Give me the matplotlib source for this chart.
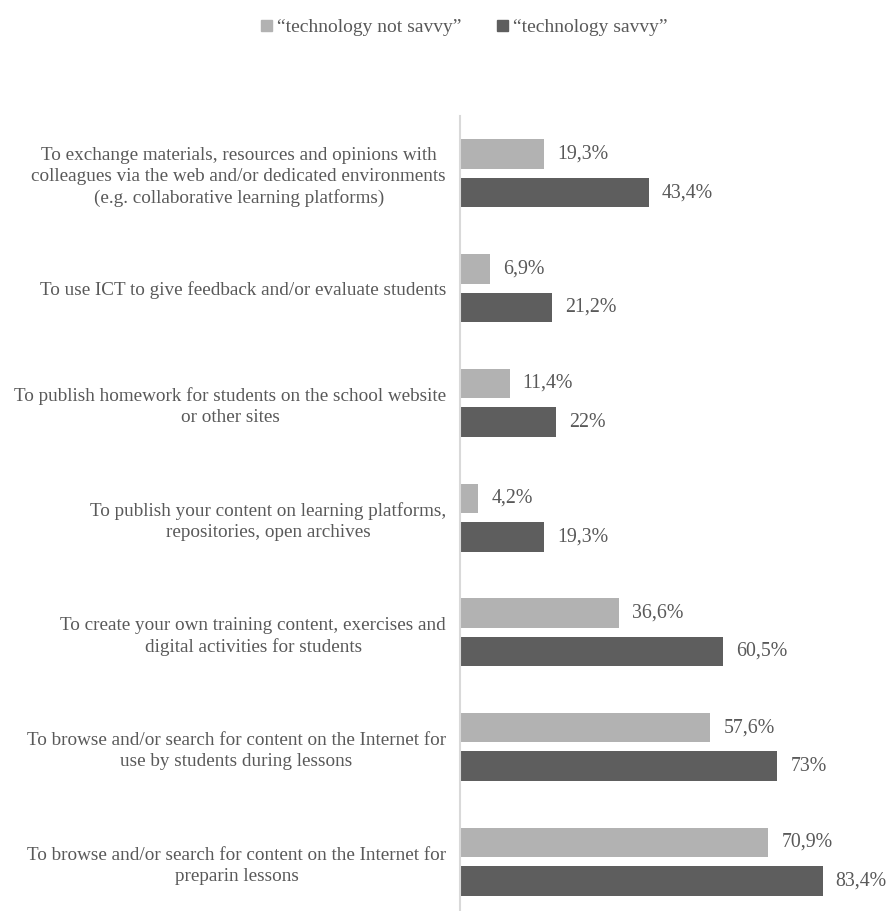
import numpy as np
import matplotlib.pyplot as plt
from matplotlib.patches import Patch

categories = [
    "To exchange materials, resources and opinions with\ncolleagues via the web and/or dedicated environments\n(e.g. collaborative learning platforms)",
    "To use ICT to give feedback and/or evaluate students",
    "To publish homework for students on the school website\nor other sites",
    "To publish your content on learning platforms,\nrepositories, open archives",
    "To create your own training content, exercises and\ndigital activities for students",
    "To browse and/or search for content on the Internet for\nuse by students during lessons",
    "To browse and/or search for content on the Internet for\npreparin lessons",
]
not_savvy = [19.3, 6.9, 11.4, 4.2, 36.6, 57.6, 70.9]
savvy = [43.4, 21.2, 22.0, 19.3, 60.5, 73.0, 83.4]
series_names = ["\u201ctechnology not savvy\u201d", "\u201ctechnology savvy\u201d"]

light = "#b2b2b2"
dark = "#5e5e5e"
txt = "#595959"

plt.rcParams["font.family"] = ["Liberation Serif", "DejaVu Serif"]

fig = plt.figure(figsize=(8.88, 9.11), dpi=100)
ax = fig.add_axes([460 / 888, 0.0, 413 / 888, 795 / 911])

y = np.arange(len(categories))
h = 0.257
off = 0.168

ax.barh(y - off, not_savvy, height=h, color=light)
ax.barh(y + off, savvy, height=h, color=dark)

def fmt(v):
    s = f"{v:.1f}".rstrip("0").rstrip(".")
    return s.replace(".", ",") + "%"

for yi, v in zip(y, not_savvy):
    ax.text(v + 3.0, yi - off, fmt(v), va="center", ha="left", fontsize=14.3, color=txt)
for yi, v in zip(y, savvy):
    ax.text(v + 3.0, yi + off, fmt(v), va="center", ha="left", fontsize=14.3, color=txt)

ax.set_xlim(0, 95)
ax.set_ylim(6.43, -0.5)
ax.set_xticks([])
ax.set_yticks(y)
ax.set_yticklabels(categories, fontsize=13.8, color=txt, multialignment="center",
                   linespacing=1.3)
ax.tick_params(axis="y", length=0, pad=10)
for s in ["top", "right", "bottom"]:
    ax.spines[s].set_visible(False)
ax.spines["left"].set_color("#d9d9d9")
ax.spines["left"].set_linewidth(1.5)

handles = [Patch(color=light), Patch(color=dark)]
fig.legend(handles, series_names, loc="upper center", bbox_to_anchor=(0.523, 0.998),
           ncol=2, frameon=False, fontsize=14, labelcolor=txt,
           handlelength=0.55, handleheight=0.55, handletextpad=0.3, columnspacing=1.8)

fig.savefig("out.png", dpi=100)
